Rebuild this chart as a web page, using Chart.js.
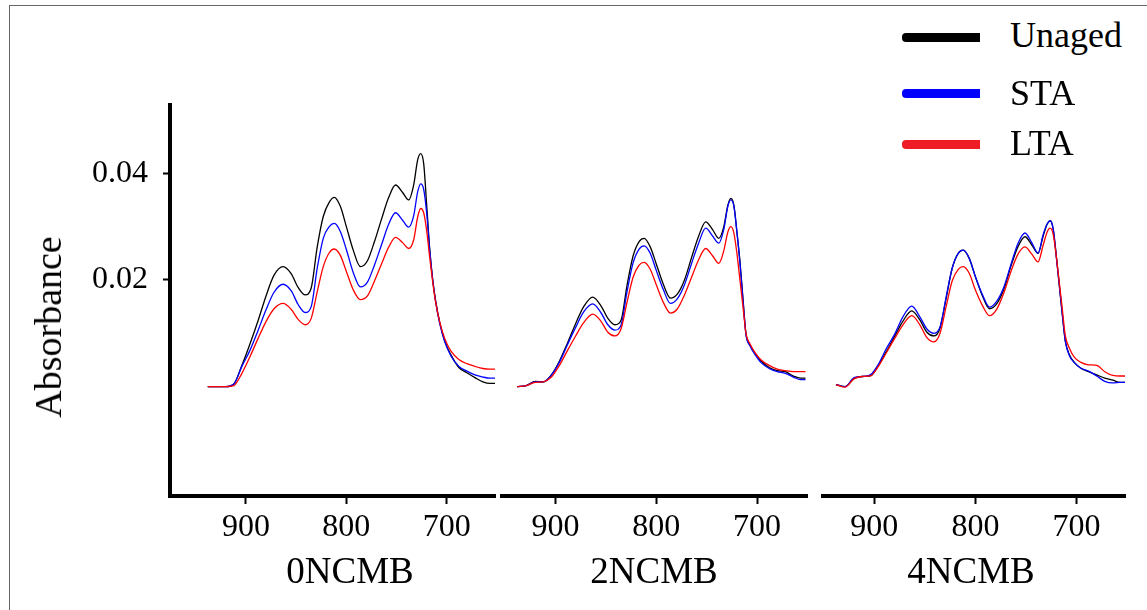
<!DOCTYPE html>
<html>
<head>
<meta charset="utf-8">
<script src="https://cdn.jsdelivr.net/npm/chart.js@4.4.0/dist/chart.umd.min.js"></script>
<style>
    body { margin: 0; background: #fff; width: 1147px; height: 610px; overflow: hidden; position: relative; font-family: 'Liberation Serif', 'Times New Roman', serif; }
    .frame { position: absolute; left: 9px; top: 5px; width: 1160px; height: 620px; border-left: 1px solid #666; border-top: 1px solid #666; }
    canvas { position: absolute; }
    .ytitle { position: absolute; left: 48px; top: 327px; transform: translate(-50%, -50%) rotate(-90deg); font-size: 38px; line-height: 38px; white-space: nowrap; color: #000; }
    .ptitle { position: absolute; top: 552px; width: 200px; text-align: center; font-size: 37px; line-height: 37px; color: #000; white-space: nowrap; }
    .leg-bar { position: absolute; left: 902px; width: 78px; height: 9px; border-radius: 4px 0 0 4px; }
    .leg-text { position: absolute; left: 1010px; font-size: 36px; line-height: 36px; color: #000; white-space: nowrap; }
</style>
</head>
<body>
<div class="frame"></div>
<canvas id="panel0" width="490" height="515" style="left:10px;top:95px"></canvas>
<canvas id="panel2" width="308" height="515" style="left:500px;top:95px"></canvas>
<canvas id="panel4" width="305" height="515" style="left:821px;top:95px"></canvas>
<div class="ytitle">Absorbance</div>
<div class="ptitle" style="left:250px">0NCMB</div>
<div class="ptitle" style="left:554px">2NCMB</div>
<div class="ptitle" style="left:871px">4NCMB</div>

<div class="leg-bar" style="top:33px;background:#000000"></div>
<div class="leg-text" style="top:17px">Unaged</div>
<div class="leg-bar" style="top:89px;background:#0000ff"></div>
<div class="leg-text" style="top:75px">STA</div>
<div class="leg-bar" style="top:140px;background:#ee1c25"></div>
<div class="leg-text" style="top:125px">LTA</div>

<script>
// wavenumber grid (cm-1), shared by all panels
const wavenumbers = [938, 929, 920, 912, 904, 896, 888, 880, 872, 863,
    855, 848, 841, 835, 829, 823, 817, 812, 806, 800,
    793, 786, 779, 772, 765, 758, 751, 744, 738, 733,
    729, 726, 723, 720, 717, 714, 711, 707, 702, 696,
    688, 680, 672, 664, 657, 652];

const xTicks = [900, 800, 700];
const yTicks = [0.02, 0.04];

// 0NCMB
const unaged0 = [0, 0, 0, 0.0005, 0.0040, 0.0080, 0.0123, 0.0170, 0.0209, 0.0225,
    0.0212, 0.0186, 0.0172, 0.0185, 0.0262, 0.0319, 0.0346, 0.0355, 0.0338, 0.0300,
    0.0255, 0.0225, 0.0236, 0.0272, 0.0314, 0.0354, 0.0378, 0.0364, 0.0350, 0.0378,
    0.0425, 0.0437, 0.0418, 0.0340, 0.0258, 0.0200, 0.0160, 0.0120, 0.0085, 0.0060,
    0.0036, 0.0026, 0.0017, 0.0009, 0.0006, 0.0006];
const sta0 = [0, 0, 0, 0.0005, 0.0038, 0.0068, 0.0105, 0.0144, 0.0177, 0.0192,
    0.0180, 0.0154, 0.0139, 0.0150, 0.0222, 0.0278, 0.0300, 0.0306, 0.0291, 0.0257,
    0.0213, 0.0187, 0.0196, 0.0228, 0.0266, 0.0304, 0.0326, 0.0312, 0.0299, 0.0320,
    0.0365, 0.0380, 0.0370, 0.0325, 0.0255, 0.0200, 0.0158, 0.0118, 0.0084, 0.0058,
    0.0038, 0.0029, 0.0022, 0.0018, 0.0016, 0.0016];
const lta0 = [0, 0, 0, 0.0002, 0.0025, 0.0056, 0.0090, 0.0122, 0.0146, 0.0156,
    0.0145, 0.0126, 0.0116, 0.0128, 0.0178, 0.0225, 0.0251, 0.0258, 0.0246, 0.0216,
    0.0181, 0.0163, 0.0170, 0.0198, 0.0230, 0.0261, 0.0280, 0.0270, 0.0259, 0.0275,
    0.0318, 0.0334, 0.0326, 0.0292, 0.0242, 0.0196, 0.0157, 0.0121, 0.0090, 0.0067,
    0.0051, 0.0043, 0.0038, 0.0034, 0.0033, 0.0033];

// 2NCMB
const unaged2 = [0, 0.0002, 0.0010, 0.0009, 0.0022, 0.0048, 0.0082, 0.0118, 0.0150, 0.0168,
    0.0152, 0.0128, 0.0116, 0.0124, 0.0190, 0.0245, 0.0272, 0.0278, 0.0262, 0.0230,
    0.0192, 0.0166, 0.0174, 0.0200, 0.0242, 0.0282, 0.0309, 0.0294, 0.0278, 0.0300,
    0.0340, 0.0353, 0.0340, 0.0290, 0.0235, 0.0165, 0.0098, 0.0078, 0.0062, 0.0048,
    0.0036, 0.0030, 0.0028, 0.0020, 0.0016, 0.0016];
const sta2 = [0, 0.0002, 0.0009, 0.0009, 0.0022, 0.0046, 0.0079, 0.0111, 0.0140, 0.0155,
    0.0139, 0.0116, 0.0106, 0.0115, 0.0178, 0.0232, 0.0258, 0.0264, 0.0250, 0.0218,
    0.0182, 0.0156, 0.0165, 0.0191, 0.0231, 0.0269, 0.0297, 0.0282, 0.0269, 0.0295,
    0.0338, 0.0350, 0.0338, 0.0290, 0.0232, 0.0162, 0.0098, 0.0076, 0.0060, 0.0045,
    0.0034, 0.0028, 0.0025, 0.0018, 0.0013, 0.0013];
const lta2 = [0, 0.0002, 0.0008, 0.0009, 0.0018, 0.0040, 0.0068, 0.0095, 0.0120, 0.0136,
    0.0123, 0.0102, 0.0095, 0.0108, 0.0158, 0.0205, 0.0228, 0.0233, 0.0220, 0.0191,
    0.0158, 0.0138, 0.0146, 0.0172, 0.0205, 0.0238, 0.0259, 0.0245, 0.0231, 0.0255,
    0.0290, 0.0300, 0.0288, 0.0250, 0.0200, 0.0150, 0.0100, 0.0080, 0.0064, 0.0050,
    0.0040, 0.0033, 0.0030, 0.0028, 0.0028, 0.0028];

// 4NCMB
const unaged4 = [0.0004, 0.0000, 0.0015, 0.0019, 0.0020, 0.0040, 0.0066, 0.0094, 0.0122, 0.0142,
    0.0125, 0.0102, 0.0095, 0.0110, 0.0165, 0.0222, 0.0250, 0.0256, 0.0240, 0.0206,
    0.0170, 0.0146, 0.0155, 0.0182, 0.0225, 0.0262, 0.0281, 0.0265, 0.0250, 0.0282,
    0.0305, 0.0311, 0.0295, 0.0245, 0.0190, 0.0135, 0.0085, 0.0060, 0.0045, 0.0035,
    0.0028, 0.0022, 0.0016, 0.0012, 0.0008, 0.0008];
const sta4 = [0.0004, 0.0000, 0.0017, 0.0019, 0.0022, 0.0042, 0.0072, 0.0098, 0.0130, 0.0151,
    0.0131, 0.0108, 0.0100, 0.0112, 0.0168, 0.0222, 0.0250, 0.0256, 0.0240, 0.0206,
    0.0172, 0.0149, 0.0160, 0.0186, 0.0228, 0.0268, 0.0288, 0.0269, 0.0250, 0.0285,
    0.0305, 0.0311, 0.0295, 0.0245, 0.0190, 0.0135, 0.0085, 0.0058, 0.0045, 0.0035,
    0.0029, 0.0020, 0.0010, 0.0007, 0.0008, 0.0008];
const lta4 = [0.0004, -0.0001, 0.0015, 0.0019, 0.0020, 0.0038, 0.0064, 0.0090, 0.0115, 0.0133,
    0.0116, 0.0092, 0.0084, 0.0100, 0.0150, 0.0198, 0.0220, 0.0225, 0.0212, 0.0181,
    0.0152, 0.0133, 0.0145, 0.0175, 0.0215, 0.0248, 0.0262, 0.0248, 0.0234, 0.0265,
    0.0290, 0.0297, 0.0285, 0.0245, 0.0195, 0.0145, 0.0095, 0.0072, 0.0055, 0.0046,
    0.0041, 0.0040, 0.0028, 0.0021, 0.0020, 0.0020];

const FONT = "'Liberation Serif', 'Times New Roman', serif";

function toPoints(values) {
    return wavenumbers.map((w, i) => ({ x: w, y: values[i] }));
}

// keep the plot box exactly where the reference has it
function noEdgePadding(s) {
    s.paddingLeft = 0;
    s.paddingRight = 0;
    s.paddingTop = 0;
    s.paddingBottom = 0;
}

function makePanel(id, xMin, xMax, unaged, sta, lta, showY) {
    const ctx = document.getElementById(id).getContext('2d');
    return new Chart(ctx, {
        type: 'line',
        data: {
            datasets: [
                { label: 'Unaged', data: toPoints(unaged), borderColor: '#000000', order: 3 },
                { label: 'STA', data: toPoints(sta), borderColor: '#0000ff', order: 2 },
                { label: 'LTA', data: toPoints(lta), borderColor: '#ff0000', order: 1 },
            ]
        },
        options: {
            responsive: false,
            animation: false,
            layout: { padding: { top: 10, right: showY ? 5 : 0, left: 0, bottom: 0 } },
            elements: {
                point: { radius: 0 },
                line: { borderWidth: 1.3, cubicInterpolationMode: 'monotone' }
            },
            plugins: { legend: { display: false }, tooltip: { enabled: false } },
            scales: {
                x: {
                    type: 'linear', reverse: true, min: xMin, max: xMax,
                    afterBuildTicks: s => { s.ticks = xTicks.map(v => ({ value: v })); },
                    afterFit: s => { s.height = 114; noEdgePadding(s); },
                    grid: { drawOnChartArea: false, tickLength: 8, tickColor: '#000', tickWidth: 2 },
                    border: { color: '#000', width: 4 },
                    ticks: { color: '#000', font: { family: FONT, size: 32 }, padding: 4, maxRotation: 0 }
                },
                y: {
                    display: showY, min: -0.0205, max: 0.0528,
                    afterBuildTicks: s => { s.ticks = yTicks.map(v => ({ value: v })); },
                    afterFit: s => { s.width = showY ? 160 : 0; noEdgePadding(s); },
                    grid: { drawOnChartArea: false, tickLength: 7, tickColor: '#000', tickWidth: 2 },
                    border: { color: '#000', width: 4 },
                    ticks: { color: '#000', font: { family: FONT, size: 32 }, padding: 15, callback: v => v.toFixed(2) }
                }
            }
        }
    });
}

makePanel('panel0', 652, 975.6, unaged0, sta0, lta0, true);
makePanel('panel2', 649.5, 955, unaged2, sta2, lta2, false);
makePanel('panel4', 651, 952.8, unaged4, sta4, lta4, false);
</script>
</body>
</html>
